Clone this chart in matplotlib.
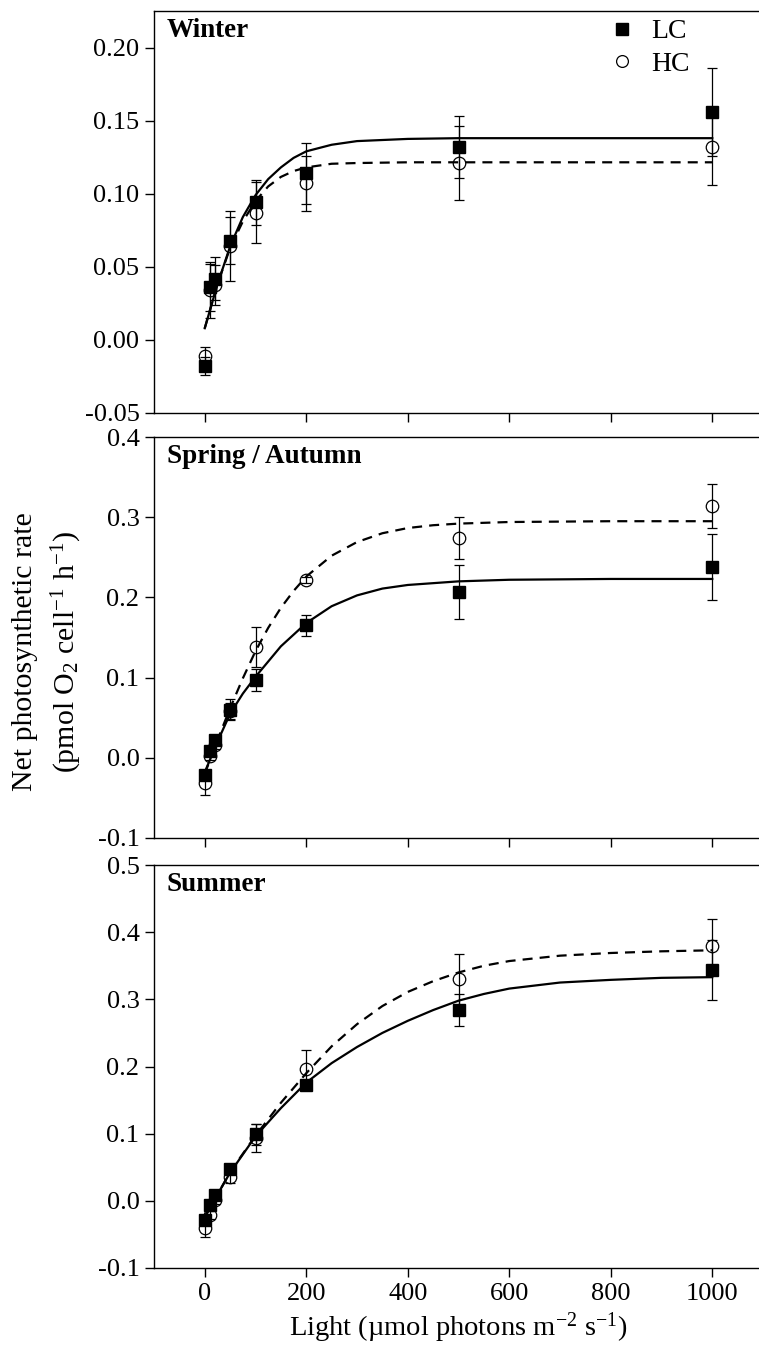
import matplotlib
matplotlib.use('Agg')
import matplotlib.pyplot as plt
from matplotlib.lines import Line2D

# ─── Data ─────────────────────────────────────────────────────────
light = [0, 10, 20, 50, 100, 200, 500, 1000]

# Winter
winter_lc = [-0.018, 0.036, 0.042, 0.068, 0.094, 0.114, 0.132, 0.156]
winter_lc_err = [0.006, 0.016, 0.015, 0.016, 0.0155, 0.021, 0.021, 0.030]
winter_hc = [-0.011, 0.034, 0.0375, 0.064, 0.087, 0.107, 0.121, 0.132]
winter_hc_err = [0.006, 0.019, 0.0135, 0.024, 0.021, 0.019, 0.025, 0.026]
winter_fit_x = [0, 25, 50, 75, 100, 125, 150, 175, 200, 250, 300, 400, 500, 1000]
winter_lc_fit = [0.008, 0.038, 0.064, 0.084, 0.099, 0.110, 0.118, 0.1245, 0.129,
                 0.1335, 0.136, 0.1375, 0.138, 0.138]
winter_hc_fit = [0.008, 0.038, 0.063, 0.081, 0.095, 0.105, 0.1115, 0.1155, 0.118,
                 0.1205, 0.121, 0.1215, 0.1215, 0.1215]

# Spring / Autumn
spring_lc = [-0.021, 0.008, 0.022, 0.060, 0.097, 0.165, 0.207, 0.238]
spring_lc_err = [0.006, 0.005, 0.005, 0.013, 0.014, 0.013, 0.034, 0.041]
spring_hc = [-0.031, 0.002, 0.016, 0.058, 0.138, 0.222, 0.274, 0.314]
spring_hc_err = [0.016, 0.005, 0.005, 0.010, 0.025, 0.004, 0.026, 0.028]
spring_fit_x = [0, 25, 50, 75, 100, 150, 200, 250, 300, 350, 400, 500, 600, 800, 1000]
spring_lc_fit = [-0.018, 0.020, 0.055, 0.080, 0.101, 0.139, 0.168, 0.189, 0.2025,
                 0.211, 0.2155, 0.220, 0.222, 0.223, 0.223]
spring_hc_fit_x = [0, 25, 50, 75, 100, 125, 150, 175, 200, 250, 300, 350, 400,
                   450, 500, 600, 800, 1000]
spring_hc_fit = [-0.020, 0.022, 0.062, 0.099, 0.133, 0.162, 0.187, 0.208, 0.226,
                 0.252, 0.269, 0.280, 0.2865, 0.290, 0.292, 0.294, 0.295, 0.295]

# Summer
summer_lc = [-0.028, -0.006, 0.009, 0.048, 0.099, 0.172, 0.284, 0.344]
summer_lc_err = [0.006, 0.005, 0.005, 0.006, 0.016, 0.004, 0.024, 0.045]
summer_hc = [-0.041, -0.021, 0.001, 0.036, 0.093, 0.196, 0.330, 0.380]
summer_hc_err = [0.013, 0.006, 0.005, 0.009, 0.021, 0.028, 0.038, 0.039]
summer_fit_x = [0, 50, 100, 150, 200, 250, 300, 350, 400, 450, 500, 550, 600,
                700, 800, 900, 1000]
summer_lc_fit = [-0.023, 0.042, 0.096, 0.138, 0.176, 0.205, 0.229, 0.250, 0.268,
                 0.284, 0.298, 0.308, 0.316, 0.325, 0.329, 0.332, 0.333]
summer_hc_fit = [-0.025, 0.043, 0.097, 0.146, 0.190, 0.230, 0.263, 0.290, 0.311,
                 0.327, 0.340, 0.350, 0.357, 0.365, 0.369, 0.3715, 0.373]

panels = [
    dict(title='Winter', lc=winter_lc, lc_err=winter_lc_err, hc=winter_hc,
         hc_err=winter_hc_err, lc_fx=winter_fit_x, lc_fit=winter_lc_fit,
         hc_fx=winter_fit_x, hc_fit=winter_hc_fit,
         ylim=(-0.05, 0.225), yticks=[-0.05, 0.0, 0.05, 0.10, 0.15, 0.20], fmt='%.2f'),
    dict(title='Spring / Autumn', lc=spring_lc, lc_err=spring_lc_err, hc=spring_hc,
         hc_err=spring_hc_err, lc_fx=spring_fit_x, lc_fit=spring_lc_fit,
         hc_fx=spring_hc_fit_x, hc_fit=spring_hc_fit,
         ylim=(-0.1, 0.4), yticks=[-0.1, 0.0, 0.1, 0.2, 0.3, 0.4], fmt='%.1f'),
    dict(title='Summer', lc=summer_lc, lc_err=summer_lc_err, hc=summer_hc,
         hc_err=summer_hc_err, lc_fx=summer_fit_x, lc_fit=summer_lc_fit,
         hc_fx=summer_fit_x, hc_fit=summer_hc_fit,
         ylim=(-0.1, 0.5), yticks=[-0.1, 0.0, 0.1, 0.2, 0.3, 0.4, 0.5], fmt='%.1f'),
]

# ─── Global Settings ───────────────────────────────────────────────
matplotlib.rcParams.update({
    'font.family': 'serif',
    'font.serif': ['Liberation Serif', 'DejaVu Serif'],
    'mathtext.fontset': 'custom',
    'mathtext.rm': 'Liberation Serif',
    'mathtext.it': 'Liberation Serif:italic',
    'axes.unicode_minus': False,
    'axes.linewidth': 1.0,
})

W, H = 759, 1352
fig = plt.figure(figsize=(W / 100, H / 100), dpi=100)

left = 154 / W
width = 609 / W
boxes = [(11, 413), (437, 838), (865, 1268)]   # top / bottom in pixels

axes = []
for (top, bot), p in zip(boxes, panels):
    ax = fig.add_axes([left, 1 - bot / H, width, (bot - top) / H])
    axes.append(ax)

    # fitted curves
    ax.plot(p['lc_fx'], p['lc_fit'], '-', color='black', lw=1.6, zorder=2)
    ax.plot(p['hc_fx'], p['hc_fit'], color='black', lw=1.6,
            ls=(0, (4.5, 3.2)), zorder=2)

    # measured means +/- SD
    ax.errorbar(light, p['hc'], yerr=p['hc_err'], fmt='o', color='black',
                mfc='none', mec='black', ms=9, mew=0.9, capsize=3.5,
                elinewidth=0.9, capthick=0.9, zorder=3)
    ax.errorbar(light, p['lc'], yerr=p['lc_err'], fmt='s', color='black',
                ms=8.5, capsize=3.5, elinewidth=0.9, capthick=0.9, zorder=4)

    ax.set_xlim(-100, 1100)
    ax.set_ylim(*p['ylim'])
    ax.set_yticks(p['yticks'])
    ax.set_yticklabels([p['fmt'] % v for v in p['yticks']])
    ax.set_xticks([0, 200, 400, 600, 800, 1000])
    ax.spines['right'].set_visible(False)
    ax.tick_params(direction='out', length=6.5, width=1, labelsize=19, pad=4)

    ax.text(0.021, 0.982, p['title'], transform=ax.transAxes, ha='left', va='top',
            fontsize=19.5, fontweight='bold')

for ax in axes[:-1]:
    ax.tick_params(labelbottom=False)

axes[-1].set_xlabel('Light (µmol photons m$^{-2}$ s$^{-1}$)', fontsize=20.5, labelpad=4)

fig.text(48 / W, 1 - 652 / H,
         'Net photosynthetic rate\n(pmol O$_2$ cell$^{-1}$ h$^{-1}$)',
         rotation=90, ha='center', va='center', fontsize=21.5, linespacing=1.5)

handles = [Line2D([], [], marker='s', ls='none', color='black', ms=8.5),
           Line2D([], [], marker='o', ls='none', mfc='none', mec='black', ms=8.5, mew=0.9)]
axes[0].legend(handles, ['LC', 'HC'], loc='upper left', bbox_to_anchor=(0.745, 0.98),
               frameon=False, fontsize=20, handlelength=1.0, handletextpad=0.55,
               borderaxespad=0, borderpad=0, labelspacing=0.25)

fig.savefig('out.png', dpi=100)
